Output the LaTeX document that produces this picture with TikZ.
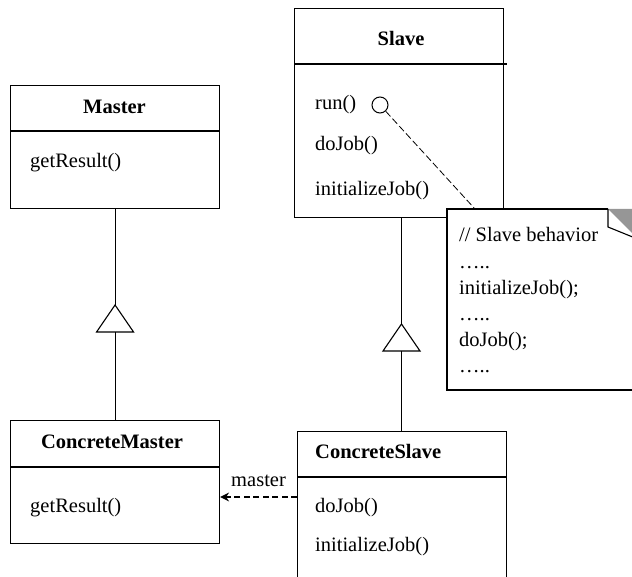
\documentclass[tikz,border=0pt]{standalone}
\usepackage{fontspec}
\setmainfont{Liberation Serif}
\usetikzlibrary{arrows.meta}
\definecolor{foldgray}{RGB}{150,150,150}
\tikzset{
  classbox/.style={draw, line width=1.1pt, inner sep=0pt, minimum width=209pt, anchor=north west},
  sepline/.style={line width=1.1pt},
  title/.style={font=\fontsize{20.5}{24}\selectfont\bfseries, inner sep=0pt},
  member/.style={font=\fontsize{20.5}{24}\selectfont, inner sep=0pt, anchor=west},
  notetext/.style={font=\fontsize{20.5}{24}\selectfont, inner sep=0pt, anchor=base west},
  inherit/.style={line width=1.1pt},
  notelink/.style={line width=0.8pt, dash pattern=on 7pt off 3pt},
  depend/.style={line width=1.6pt, dash pattern=on 6pt off 3.5pt, -{Stealth[length=9pt,width=9pt,inset=3pt]}},
}
\begin{document}
\begin{tikzpicture}[x=1pt,y=-1pt]
\useasboundingbox (0,0) rectangle (632,577);
\clip (0,0) rectangle (632,577);

% Master class
\node[classbox, minimum height=123pt] (master) at (10,85) {};
\draw[sepline] (master.west |- 0,131) -- (master.east |- 0,131);
\node[title] (mastertitle) at (114.5,106.7) {Master};
\node[member] (mastergr) at (30,163) {getResult()};

% Slave class
\node[classbox, minimum height=209pt] (slave) at (294,8) {};
\draw[sepline] (slave.west |- 0,64) -- (507,64);
\node[title] (slavetitle) at (401,38.5) {Slave};
\node[member] (slaverun) at (315,105) {run()};
\node[draw, circle, line width=1pt, minimum size=16pt, inner sep=0pt] (runport) at (380,105) {};
\node[member] (slavedo) at (315,146) {doJob()};
\node[member] (slaveinit) at (315,191) {initializeJob()};

% ConcreteMaster class
\node[classbox, minimum height=123pt] (cmaster) at (10,420) {};
\draw[sepline] (cmaster.west |- 0,467) -- (cmaster.east |- 0,467);
\node[title] (cmastertitle) at (112,441.7) {ConcreteMaster};
\node[member] (cmastergr) at (30,508) {getResult()};

% ConcreteSlave class
\node[classbox, minimum height=200pt] (cslave) at (297,431) {};
\draw[sepline] (cslave.west |- 0,477) -- (cslave.east |- 0,477);
\node[title, anchor=west] (cslavetitle) at (315,451.7) {ConcreteSlave};
\node[member] (cslavedo) at (315,508) {doJob()};
\node[member] (cslaveinit) at (315,547) {initializeJob()};

% Generalisation: ConcreteMaster -> Master
\coordinate (t1apex) at (master.south |- 0,305);
\coordinate (t1base) at (master.south |- 0,332);
\draw[inherit] (master.south) -- (t1apex);
\draw[inherit] (t1apex) -- ++(-18.5,27) -- ++(37,0) -- cycle;
\draw[inherit] (t1base) -- (cmaster.north);

% Generalisation: ConcreteSlave -> Slave
\coordinate (t2apex) at (401.5,324);
\coordinate (t2base) at (401.5,351);
\draw[inherit] (t2apex |- slave.south) -- (t2apex);
\draw[inherit] (t2apex) -- ++(-18.5,27) -- ++(37,0) -- cycle;
\draw[inherit] (t2base) -- (t2base |- cslave.north);

% Note with folded corner
\fill[white] (447,209) -- (608,209) -- (640,240) -- (640,390) -- (447,390) -- cycle;
\fill[foldgray] (608,209) -- (640,209) -- (640,241) -- cycle;
\draw[line width=1.1pt, line join=miter] (608,209) -- (447,209) -- (447,390) -- (640,390) -- (640,240);
\draw[line width=1.1pt] (608,209) -- (608,227) -- (640,240);
\node[notetext] (n1) at (459,242) {// Slave behavior};
\node[notetext] (n2) at (459,268.5) {…..};
\node[notetext] (n3) at (459,294.5) {initializeJob();};
\node[notetext] (n4) at (459,321) {…..};
\node[notetext] (n5) at (459,347) {doJob();};
\node[notetext] (n6) at (459,373) {…..};
\coordinate (notetop) at (475,209);
\draw[notelink] (runport) -- (notetop);

% Dependency ConcreteSlave -> ConcreteMaster
\draw[depend] (cslave.west |- 0,497) -- (cmaster.east |- 0,497)
  node[midway, anchor=base, yshift=11pt, font=\fontsize{20.5}{24}\selectfont, inner sep=0pt] (deplabel) {master};
\end{tikzpicture}
\end{document}
